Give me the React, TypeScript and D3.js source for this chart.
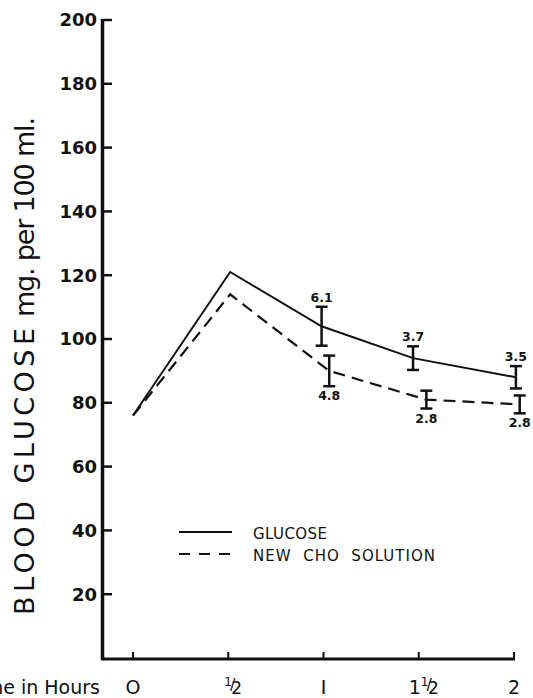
import React from 'react';
import * as d3 from 'd3';

// values
const glucoseTimes = [0, 0.51, 0.99, 1.47, 2.01];
const glucoseValues = [76, 121, 104, 94, 88];
const glucoseSE = [null, null, 6.1, 3.7, 3.5];

const choTimes = [0, 0.51, 1.03, 1.54, 2.03];
const choValues = [76, 114, 90, 81, 79.5];
const choSE = [null, null, 4.8, 2.8, 2.8];

const yTicks = [20, 40, 60, 80, 100, 120, 140, 160, 180, 200];
const xTicks = [0, 0.5, 1, 1.5, 2];
const xTickLabels = ['O', '½', 'I', '1½', '2'];

const legendItems = [
    { label: 'GLUCOSE', dash: null, length: 74 },
    { label: 'NEW  CHO  SOLUTION', dash: '11 9', length: 182 }
];

const font = '"DejaVu Sans", sans-serif';
const width = 533;
const height = 698;

const x = d3.scaleLinear().domain([0, 2]).range([133, 514]);
const y = d3.scaleLinear().domain([0, 200]).range([658, 20]);

type Pt = { t: number; v: number; se: number | null };
const zip = (ts: number[], vs: number[], ses: (number | null)[]): Pt[] =>
    ts.map((t, i) => ({ t, v: vs[i], se: ses[i] }));

const glucose = zip(glucoseTimes, glucoseValues, glucoseSE);
const cho = zip(choTimes, choValues, choSE);

const line = d3.line<Pt>().x(d => x(d.t)).y(d => y(d.v));

function ErrorBars({ data, labelAbove }: { data: Pt[]; labelAbove: boolean }) {
    return (
        <g>
            {data.filter(d => d.se !== null).map((d, i) => {
                const cx = x(d.t);
                const top = y(d.v + (d.se as number));
                const bot = y(d.v - (d.se as number));
                return (
                    <g key={i} stroke="#111" strokeWidth={2.5}>
                        <line x1={cx} x2={cx} y1={top} y2={bot} />
                        <line x1={cx - 6} x2={cx + 6} y1={top} y2={top} />
                        <line x1={cx - 6} x2={cx + 6} y1={bot} y2={bot} />
                        <text
                            x={cx}
                            y={labelAbove ? top - 5 : bot + 14}
                            textAnchor="middle"
                            fontSize={12.5}
                            fontWeight="bold"
                            stroke="none"
                            fill="#111"
                        >{(d.se as number).toFixed(1)}</text>
                    </g>
                );
            })}
        </g>
    );
}

function XLabel({ value, label }: { value: number; label: string }) {
    const cx = x(value);
    if (label.endsWith('½')) {
        const whole = label.slice(0, -1);
        return (
            <text x={cx + 5} y={694} textAnchor="middle" fontSize={19} fill="#111">
                {whole ? <tspan>{whole}</tspan> : null}
                <tspan fontSize={12} dy={-8}>1</tspan>
                <tspan fontSize={16} dy={4} dx={-2}>/</tspan>
                <tspan fontSize={17} dy={4} dx={-4}>2</tspan>
            </text>
        );
    }
    return <text x={cx} y={694} textAnchor="middle" fontSize={19} fill="#111">{label}</text>;
}

export default function App() {
    return (
        <div style={{ position: 'absolute', left: 0, top: 0 }}>
            <svg width={width} height={height} style={{ display: 'block', background: '#fff' }} fontFamily={font}>
                {/* y axis */}
                <line x1={102.5} x2={102.5} y1={y(200) - 1} y2={660} stroke="#111" strokeWidth={3.5} />
                {yTicks.map(t => (
                    <g key={t}>
                        <line x1={102} x2={112} y1={y(t)} y2={y(t)} stroke="#111" strokeWidth={2.5} />
                        <text x={97} y={y(t)} dy="0.36em" textAnchor="end" fontSize={18} fontWeight="bold" fill="#111">{t}</text>
                    </g>
                ))}
                {/* x axis */}
                <line x1={101} x2={515} y1={659} y2={659} stroke="#111" strokeWidth={3} />
                {xTicks.map((t, i) => (
                    <g key={t}>
                        <line x1={x(t)} x2={x(t)} y1={659} y2={652} stroke="#111" strokeWidth={2} />
                        <XLabel value={t} label={xTickLabels[i]} />
                    </g>
                ))}
                <text x={100} y={694} textAnchor="end" fontSize={19} fill="#111">Time in Hours</text>

                {/* y axis title */}
                <g transform="translate(34,615) rotate(-90)" fill="#111">
                    <text x={0} y={0} fontSize={27} textLength={287} lengthAdjust="spacing">BLOOD GLUCOSE</text>
                    <text x={298} y={0} fontSize={27} textLength={200} lengthAdjust="spacing">mg. per 100 ml.</text>
                </g>

                {/* series */}
                <path d={line(glucose) || ''} fill="none" stroke="#111" strokeWidth={2} />
                <path d={line(cho) || ''} fill="none" stroke="#111" strokeWidth={2.2} strokeDasharray="12 7" />
                <ErrorBars data={glucose} labelAbove={true} />
                <ErrorBars data={cho} labelAbove={false} />

                {/* legend */}
                {legendItems.map((item, i) => (
                    <g key={item.label} transform={`translate(0,${532 + i * 22})`}>
                        <line x1={179} x2={232} y1={0} y2={0} stroke="#111" strokeWidth={2.2}
                            strokeDasharray={item.dash || undefined} />
                        <text x={253} y={7} fontSize={15} fill="#111" style={{ whiteSpace: 'pre' }}
                            textLength={item.length} lengthAdjust="spacing">{item.label}</text>
                    </g>
                ))}
            </svg>
        </div>
    );
}
